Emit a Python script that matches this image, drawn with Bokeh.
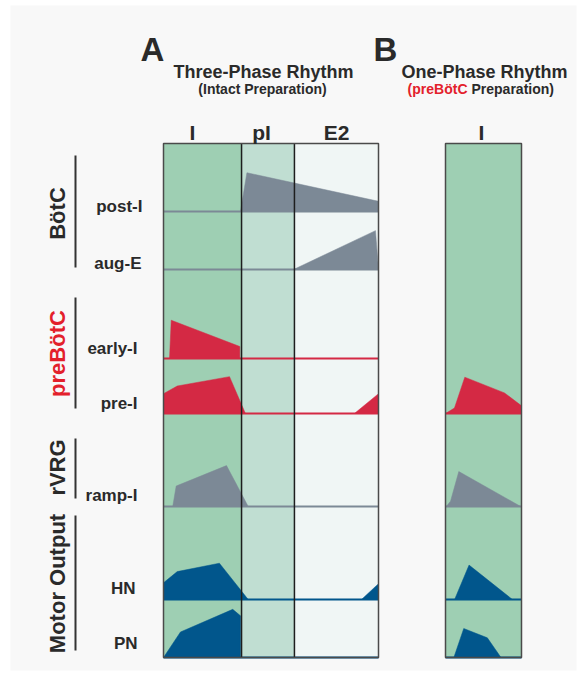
import numpy as np
from bokeh.plotting import figure
from bokeh.models import Range1d
from bokeh.core.properties import value
from bokeh.embed import file_html
from bokeh.resources import INLINE

# ---------------- data ----------------
phases_A = ["I", "pI", "E2"]
phase_edges_A = [0.0, 0.363, 0.609, 1.0]          # fraction of the respiratory cycle
phases_B = ["I"]
neurons = ["post-I", "aug-E", "early-I", "pre-I", "ramp-I", "HN", "PN"]
neuron_kind = ["gray", "gray", "red", "red", "gray", "blue", "blue"]
groups = ["BötC", "preBötC", "rVRG", "Motor Output"]
group_first = [0, 2, 4, 5]                       # first neuron row in each group
group_last = [1, 3, 4, 6]                        # last neuron row in each group

# Panel A (three-phase rhythm): time = fraction of cycle, amp = fraction of row height
postI_t = [0.358, 0.388, 1.0, 1.0]
postI_a = [0.0, 0.57, 0.15, 0.0]
augE_t = [0.605, 0.986, 1.0]
augE_a = [0.0, 0.67, 0.0]
earlyI_t = [0.028, 0.036, 0.355, 0.355]
earlyI_a = [0.0, 0.43, 0.135, 0.0]
preI_t = [0.0, 0.0, 0.064, 0.307, 0.381, 0.888, 1.0, 1.0]
preI_a = [0.0, 0.36, 0.50, 0.67, 0.0, 0.0, 0.36, 0.0]
rampI_t = [0.043, 0.059, 0.293, 0.394]
rampI_a = [0.0, 0.22, 0.44, 0.0]
HN_t = [0.0, 0.0, 0.064, 0.26, 0.394, 0.921, 1.0, 1.0]
HN_a = [0.0, 0.18, 0.30, 0.39, 0.0, 0.0, 0.17, 0.0]
PN_t = [0.0, 0.079, 0.322, 0.358, 0.358]
PN_a = [0.0, 0.44, 0.83, 0.72, 0.0]

# Panel B (one-phase rhythm): time = fraction of inspiration
preI_B_t = [0.0, 0.118, 0.254, 0.776, 1.0, 1.0]
preI_B_a = [0.0, 0.10, 0.66, 0.375, 0.14, 0.0]
rampI_B_t = [0.01, 0.066, 0.175, 0.99]
rampI_B_a = [0.0, 0.057, 0.376, 0.0]
HN_B_t = [0.12, 0.31, 0.88]
HN_B_a = [0.0, 0.37, 0.0]
PN_B_t = [0.11, 0.24, 0.55, 0.73]
PN_B_a = [0.0, 0.50, 0.34, 0.0]

# ---------------- layout / style ----------------
W, H = 581, 675
A_x0, A_x1 = 163, 378
B_x0, B_x1 = 445, 521
row_top = [143, 211, 269, 358, 413, 506, 599]
row_bot = [211, 269, 358, 413, 506, 599, 657]

phase_fill = ["#9ecfb3", "#c0ded2", "#f0f6f5"]
kind_color = {"gray": "#7c8996", "red": "#d42944", "blue": "#01568c"}
TXT = "#2a2a2a"
RED_TXT = "#e3202b"
FONT = value("Liberation Sans")


def ax(t):
    return [A_x0 + v * (A_x1 - A_x0) for v in t]


def bx(t):
    return [B_x0 + v * (B_x1 - B_x0) for v in t]


def ry(i, a):
    h = row_bot[i] - row_top[i]
    return [H - (row_bot[i] - v * h) for v in a]


def py(v):
    return H - v


p = figure(width=W, height=H, x_range=Range1d(0, W), y_range=Range1d(0, H),
           toolbar_location=None, output_backend="svg", x_axis_type=None, y_axis_type=None,
           min_border=0, background_fill_color="white", border_fill_color="white",
           outline_line_color=None)
p.grid.visible = False
p.min_border_left = p.min_border_right = p.min_border_top = p.min_border_bottom = 0

# page background
p.quad(left=[10], right=[576], bottom=[py(670)], top=[py(5)], fill_color="#f8f8f8", line_color=None)

# column backgrounds
for k in range(len(phases_A)):
    l, r = ax([phase_edges_A[k], phase_edges_A[k + 1]])
    p.quad(left=[l], right=[r], bottom=[py(row_bot[-1])], top=[py(row_top[0])],
           fill_color=phase_fill[k], line_color=None)
p.quad(left=[B_x0], right=[B_x1], bottom=[py(row_bot[-1])], top=[py(row_top[0])],
       fill_color=phase_fill[0], line_color=None)

# traces
traces_A = [(postI_t, postI_a), (augE_t, augE_a), (earlyI_t, earlyI_a), (preI_t, preI_a),
            (rampI_t, rampI_a), (HN_t, HN_a), (PN_t, PN_a)]
traces_B = {3: (preI_B_t, preI_B_a), 4: (rampI_B_t, rampI_B_a), 5: (HN_B_t, HN_B_a), 6: (PN_B_t, PN_B_a)}

for i, (t, a) in enumerate(traces_A):
    c = kind_color[neuron_kind[i]]
    p.patch(ax(t), ry(i, a), fill_color=c, line_color=c, line_width=0.5)
for i, (t, a) in traces_B.items():
    c = kind_color[neuron_kind[i]]
    p.patch(bx(t), ry(i, a), fill_color=c, line_color=c, line_width=0.5)

# row baselines
for i in range(len(neurons)):
    c = kind_color[neuron_kind[i]]
    yb = py(row_bot[i])
    p.line([A_x0, A_x1], [yb, yb], line_color=c, line_width=1.8)
    if i in traces_B:
        p.line([B_x0, B_x1], [yb, yb], line_color=c, line_width=1.8)

# column dividers
for e in phase_edges_A[1:-1]:
    xx = ax([e])[0]
    p.line([xx, xx], [py(row_top[0]), py(row_bot[-1])], line_color="#1e1e1e", line_width=1.5)

# outer borders
for x0, x1 in [(A_x0, A_x1), (B_x0, B_x1)]:
    p.quad(left=[x0], right=[x1], bottom=[py(row_bot[-1])], top=[py(row_top[0])],
           fill_color=None, line_color="#4a4a4a", line_width=1.5)

# titles
p.text(x=[140, 373], y=[py(49)] * 2, text=["A", "B"], text_font=FONT, text_font_style="bold",
       text_font_size="33px", text_color=TXT, text_align="left", text_baseline="alphabetic")
p.text(x=[263, 484], y=[py(71)] * 2, text=["Three-Phase Rhythm", "One-Phase Rhythm"], text_font=FONT,
       text_font_style="bold", text_font_size="18px", text_color=TXT, text_align="center",
       text_baseline="alphabetic")
p.text(x=[262], y=[py(88)], text=["(Intact Preparation)"], text_font=FONT, text_font_style="bold",
       text_font_size="14px", text_color=TXT, text_align="center", text_baseline="alphabetic")
p.text(x=[467], y=[py(88)], text=["(preBötC"], text_font=FONT, text_font_style="bold",
       text_font_size="14px", text_color=RED_TXT, text_align="right", text_baseline="alphabetic")
p.text(x=[471], y=[py(88)], text=["Preparation)"], text_font=FONT, text_font_style="bold",
       text_font_size="14px", text_color=TXT, text_align="left", text_baseline="alphabetic")

# phase labels
phase_label_x = [192, 261, 336]
p.text(x=phase_label_x + [481], y=[py(132)] * 4, text=phases_A + phases_B, text_font=FONT,
       text_font_style="bold", text_font_size="21px", text_color=TXT, text_align="center",
       text_baseline="alphabetic")

# neuron row labels
label_right = [142, 141, 137, 137, 137, 135, 137]
label_base = [206, 263, 348, 403, 495, 588, 643]
p.text(x=label_right, y=[py(v) for v in label_base], text=neurons, text_font=FONT,
       text_font_style="bold", text_font_size="17px", text_color=TXT, text_align="right",
       text_baseline="alphabetic")

# group labels + brackets
bracket_top = [155, 297, 438, 515]
bracket_bot = [267, 408, 498, 650]
group_cy = [213, 353, 467, 583]
for g in range(len(groups)):
    p.line([75, 75], [py(bracket_top[g]), py(bracket_bot[g])], line_color="#333333", line_width=2)
    col = RED_TXT if groups[g] == "preBötC" else TXT
    p.text(x=[57], y=[py(group_cy[g])], text=[groups[g]], angle=np.pi / 2, text_font=FONT,
           text_font_style="bold", text_font_size="22px", text_color=col, text_align="center",
           text_baseline="middle")

open("out.html", "w").write(file_html(p, INLINE))
